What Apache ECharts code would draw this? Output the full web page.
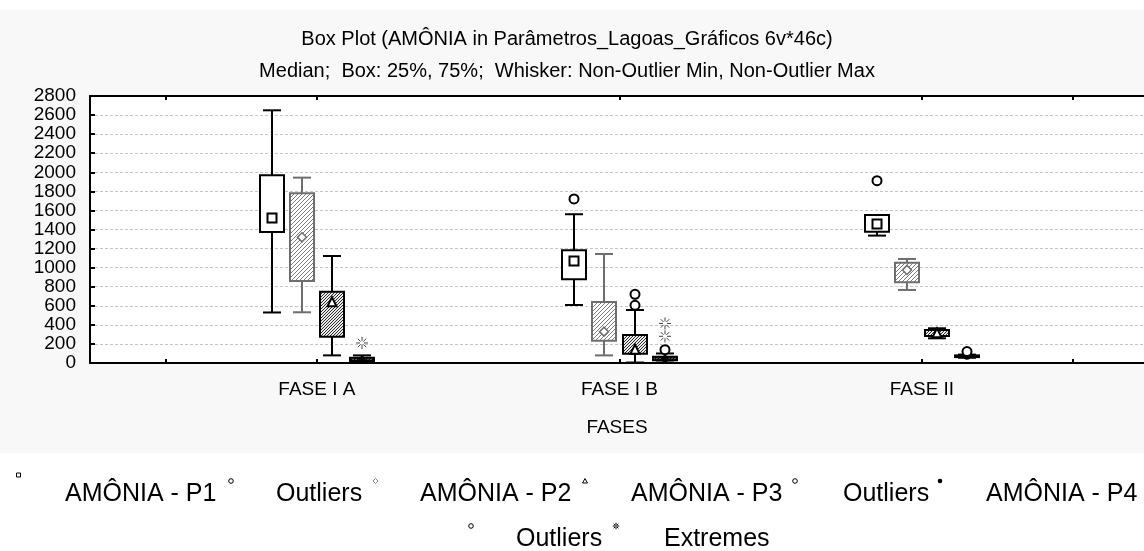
<!DOCTYPE html>
<html>
<head>
<meta charset="utf-8">
<script src="https://cdn.jsdelivr.net/npm/echarts@6/dist/echarts.min.js"></script>
<style>
  html, body { margin: 0; padding: 0; background: #ffffff; }
  #chart { width: 1144px; height: 551px; }
</style>
</head>
<body>
<div id="chart"></div>
<script>
// ---- data ----
const categories = ['FASE I A', 'FASE I B', 'FASE II'];
const yMin = 0, yMax = 2800, yStep = 200;

// [min, q1, median, q3, max] for each phase
const p1Stats = [[530, 1375, 1520, 1970, 2650], [608, 878, 1070, 1182, 1560], [1336, 1377, 1458, 1552, 1552]];
const p2Stats = [[532, 860, 1318, 1780, 1944], [80, 234, 329, 640, 1143], [766, 847, 976, 1052, 1091]];
const p3Stats = [[80, 276, 637, 748, 1122], [5, 98, 140, 294, 556], [259, 283, 311, 346, 364]];
const p4Stats = [[5, 20, 35, 55, 80], [5, 30, 45, 65, 100], [55, 62, 70, 80, 88]];

// [phase index, value]
const p1Outliers = [[1, 1720], [2, 1912]];
const p3Outliers = [[1, 605], [1, 720]];
const p4Outliers = [[1, 140], [2, 120]];
const p4Extremes = [[0, 210], [1, 280], [1, 415]];

const titleText = 'Box Plot (AMÔNIA in Parâmetros_Lagoas_Gráficos 6v*46c)';
const subtitleText = 'Median;  Box: 25%, 75%;  Whisker: Non-Outlier Min, Non-Outlier Max';
const xAxisTitle = 'FASES';

// ---- styling helpers ----
const FONT = '"Liberation Sans", Arial, sans-serif';
const BOX_W = 24, CAP_W = 18;

function hatch(bg, fg, step, lw) {
  const c = document.createElement('canvas');
  c.width = step; c.height = step;
  const g = c.getContext('2d');
  g.fillStyle = bg; g.fillRect(0, 0, step, step);
  g.strokeStyle = fg; g.lineWidth = lw;
  g.beginPath();
  g.moveTo(0, step); g.lineTo(step, 0);
  g.moveTo(-1, 1); g.lineTo(1, -1);
  g.moveTo(step - 1, step + 1); g.lineTo(step + 1, step - 1);
  g.stroke();
  return { image: c, repeat: 'repeat' };
}

const groups = [
  { name: 'AMÔNIA - P1', stats: p1Stats, offset: -0.15, stroke: '#000000', fill: '#ffffff', marker: 'square' },
  { name: 'AMÔNIA - P2', stats: p2Stats, offset: -0.05, stroke: '#6e6e6e', fill: hatch('#ffffff', '#7a7a7a', 4, 1), marker: 'diamond' },
  { name: 'AMÔNIA - P3', stats: p3Stats, offset: 0.05, stroke: '#000000', fill: hatch('#e8e8e8', '#303030', 3, 1), marker: 'triangle' },
  { name: 'AMÔNIA - P4', stats: p4Stats, offset: 0.15, stroke: '#000000', fill: hatch('#555555', '#000000', 3, 1), marker: 'dot' }
];

function markerShape(kind, cx, cy, stroke) {
  switch (kind) {
    case 'square':
      return { type: 'rect', shape: { x: cx - 4.5, y: cy - 4.5, width: 9, height: 9 }, style: { fill: '#ffffff', stroke: stroke, lineWidth: 2 } };
    case 'diamond':
      return { type: 'polygon', shape: { points: [[cx, cy - 4.5], [cx + 4.5, cy], [cx, cy + 4.5], [cx - 4.5, cy]] }, style: { fill: '#ffffff', stroke: stroke, lineWidth: 1.5 } };
    case 'triangle':
      return { type: 'polygon', shape: { points: [[cx, cy - 5], [cx + 4.5, cy + 4], [cx - 4.5, cy + 4]] }, style: { fill: '#ffffff', stroke: stroke, lineWidth: 2 } };
    default:
      return { type: 'circle', shape: { cx: cx, cy: cy, r: 3.5 }, style: { fill: '#000000' } };
  }
}

function boxRenderer(g) {
  return function (params, api) {
    const x = api.value(0) + g.offset;
    const pMin = api.coord([x, api.value(1)]);
    const pQ1 = api.coord([x, api.value(2)]);
    const pMed = api.coord([x, api.value(3)]);
    const pQ3 = api.coord([x, api.value(4)]);
    const pMax = api.coord([x, api.value(5)]);
    const cx = Math.round(pMed[0]);
    const ls = { stroke: g.stroke, lineWidth: 2 };
    const children = [
      { type: 'line', shape: { x1: cx, y1: pMin[1], x2: cx, y2: pQ1[1] }, style: ls },
      { type: 'line', shape: { x1: cx, y1: pQ3[1], x2: cx, y2: pMax[1] }, style: ls },
      { type: 'line', shape: { x1: cx - CAP_W / 2, y1: pMin[1], x2: cx + CAP_W / 2, y2: pMin[1] }, style: ls },
      { type: 'line', shape: { x1: cx - CAP_W / 2, y1: pMax[1], x2: cx + CAP_W / 2, y2: pMax[1] }, style: ls },
      { type: 'rect', shape: { x: cx - BOX_W / 2, y: pQ3[1], width: BOX_W, height: Math.max(pQ1[1] - pQ3[1], 1) },
        style: { fill: g.fill, stroke: g.stroke, lineWidth: 2 } },
      markerShape(g.marker, cx, pMed[1], g.stroke)
    ];
    return { type: 'group', children: children };
  };
}

function outlierRenderer(offset) {
  return function (params, api) {
    const p = api.coord([api.value(0) + offset, api.value(1)]);
    return { type: 'circle', shape: { cx: Math.round(p[0]), cy: p[1], r: 4.5 }, style: { fill: '#ffffff', stroke: '#000000', lineWidth: 2 } };
  };
}

function asterisk(cx, cy, r0, r1, color, lw) {
  const parts = [];
  for (let k = 0; k < 8; k++) {
    const a = k * Math.PI / 4;
    parts.push({ type: 'line', shape: { x1: cx + Math.cos(a) * r0, y1: cy + Math.sin(a) * r0, x2: cx + Math.cos(a) * r1, y2: cy + Math.sin(a) * r1 },
      style: { stroke: color, lineWidth: lw } });
  }
  return parts;
}

function extremeRenderer(offset) {
  return function (params, api) {
    const p = api.coord([api.value(0) + offset, api.value(1)]);
    return { type: 'group', children: asterisk(Math.round(p[0]), p[1], 2, 6, '#444444', 1) };
  };
}

// ---- series ----
const series = [];
groups.forEach(function (g) {
  series.push({
    type: 'custom', name: g.name, renderItem: boxRenderer(g),
    encode: { x: 0, y: [1, 2, 3, 4, 5] },
    data: g.stats.map(function (s, i) { return [i + 1].concat(s); }),
    z: 3
  });
});
[[p1Outliers, groups[0].offset], [p3Outliers, groups[2].offset], [p4Outliers, groups[3].offset]].forEach(function (o) {
  series.push({
    type: 'custom', name: 'Outliers', renderItem: outlierRenderer(o[1]),
    encode: { x: 0, y: 1 },
    data: o[0].map(function (d) { return [d[0] + 1, d[1]]; }),
    z: 4
  });
});
series.push({
  type: 'custom', name: 'Extremes', renderItem: extremeRenderer(groups[3].offset),
  encode: { x: 0, y: 1 },
  data: p4Extremes.map(function (d) { return [d[0] + 1, d[1]]; }),
  z: 4
});

// ---- legend drawn as graphic elements ----
const legendFont = '25px ' + FONT;
const legendItems = [
  { text: 'AMÔNIA - P1', x: 65, y: 494, mark: 'square', mx: 18.5, my: 475 },
  { text: 'Outliers', x: 276, y: 494, mark: 'circle', mx: 231, my: 481 },
  { text: 'AMÔNIA - P2', x: 420, y: 494, mark: 'diamond', mx: 375.5, my: 481 },
  { text: 'AMÔNIA - P3', x: 631, y: 494, mark: 'triangle', mx: 585, my: 481 },
  { text: 'Outliers', x: 843, y: 494, mark: 'circle', mx: 795, my: 481 },
  { text: 'AMÔNIA - P4', x: 986, y: 494, mark: 'dot', mx: 940, my: 481 },
  { text: 'Outliers', x: 516, y: 539, mark: 'circle', mx: 471, my: 526 },
  { text: 'Extremes', x: 664, y: 539, mark: 'asterisk', mx: 616, my: 526 }
];

function legendMark(kind, x, y) {
  switch (kind) {
    case 'square': return [{ type: 'rect', shape: { x: x - 2, y: y - 2, width: 4, height: 4 }, style: { fill: '#fff', stroke: '#000', lineWidth: 1 } }];
    case 'circle': return [{ type: 'circle', shape: { cx: x, cy: y, r: 2.3 }, style: { fill: '#fff', stroke: '#000', lineWidth: 1 } }];
    case 'diamond': return [{ type: 'polygon', shape: { points: [[x, y - 2.5], [x + 2.5, y], [x, y + 2.5], [x - 2.5, y]] }, style: { fill: '#fff', stroke: '#888', lineWidth: 1 } }];
    case 'triangle': return [{ type: 'polygon', shape: { points: [[x, y - 2.5], [x + 2.5, y + 2], [x - 2.5, y + 2]] }, style: { fill: '#fff', stroke: '#000', lineWidth: 1 } }];
    case 'dot': return [{ type: 'circle', shape: { cx: x, cy: y, r: 2.3 }, style: { fill: '#000' } }];
    default: return asterisk(x, y, 0.8, 3.2, '#000', 1);
  }
}

const graphics = [
  { type: 'rect', shape: { x: 0, y: 10, width: 1144, height: 443 }, style: { fill: '#f8f8f8' }, z: -100, silent: true }
];
legendItems.forEach(function (it) {
  legendMark(it.mark, it.mx, it.my).forEach(function (m) { graphics.push(m); });
  graphics.push({ type: 'text', x: it.x, y: it.y, style: { text: it.text, font: legendFont, fill: '#000', textAlign: 'left', textVerticalAlign: 'middle' } });
});

// ---- axes ----
const X_MIN = 0.25, X_MAX = 3.734;
const tickPositions = [0.5, 1, 2, 3, 3.5];
const labelPositions = [1, 2, 3];
const axisBlack = { color: '#000000', width: 2 };

const chart = echarts.init(document.getElementById('chart'), null, { renderer: 'canvas' });
chart.setOption({
  animation: false,
  backgroundColor: '#ffffff',
  title: [
    { text: titleText, left: 567, top: 29, textAlign: 'center', padding: 0,
      textStyle: { fontFamily: FONT, fontSize: 20, fontWeight: 'normal', color: '#000' } },
    { text: subtitleText, left: 567, top: 61, textAlign: 'center', padding: 0,
      textStyle: { fontFamily: FONT, fontSize: 20, fontWeight: 'normal', color: '#000' } }
  ],
  grid: { left: 90, right: 0, top: 96, bottom: 188, show: true, backgroundColor: '#ffffff', borderWidth: 0 },
  xAxis: [
    {
      type: 'value', position: 'bottom', min: X_MIN, max: X_MAX,
      axisLine: { show: true, lineStyle: axisBlack },
      axisTick: { show: true, inside: true, length: 4, customValues: tickPositions, lineStyle: axisBlack },
      axisLabel: { customValues: labelPositions, formatter: function (v) { return categories[Math.round(v) - 1]; },
        fontFamily: FONT, fontSize: 19, color: '#000', margin: 17 },
      splitLine: { show: false },
      name: xAxisTitle, nameLocation: 'middle', nameGap: 55,
      nameTextStyle: { fontFamily: FONT, fontSize: 19, color: '#000' }
    },
    {
      type: 'value', position: 'top', min: X_MIN, max: X_MAX,
      axisLine: { show: true, lineStyle: axisBlack },
      axisTick: { show: true, inside: true, length: 4, customValues: tickPositions, lineStyle: axisBlack },
      axisLabel: { show: false },
      splitLine: { show: false }
    }
  ],
  yAxis: {
    type: 'value', min: yMin, max: yMax, interval: yStep,
    axisLine: { show: true, lineStyle: axisBlack },
    axisTick: { show: true, inside: true, length: 5, lineStyle: axisBlack },
    axisLabel: { fontFamily: FONT, fontSize: 19, color: '#000', margin: 14, formatter: function (v) { return String(v); } },
    splitLine: { show: true, lineStyle: { color: '#c4c4c4', width: 1, type: [3, 2] } }
  },
  series: series,
  graphic: graphics
});
</script>
</body>
</html>
